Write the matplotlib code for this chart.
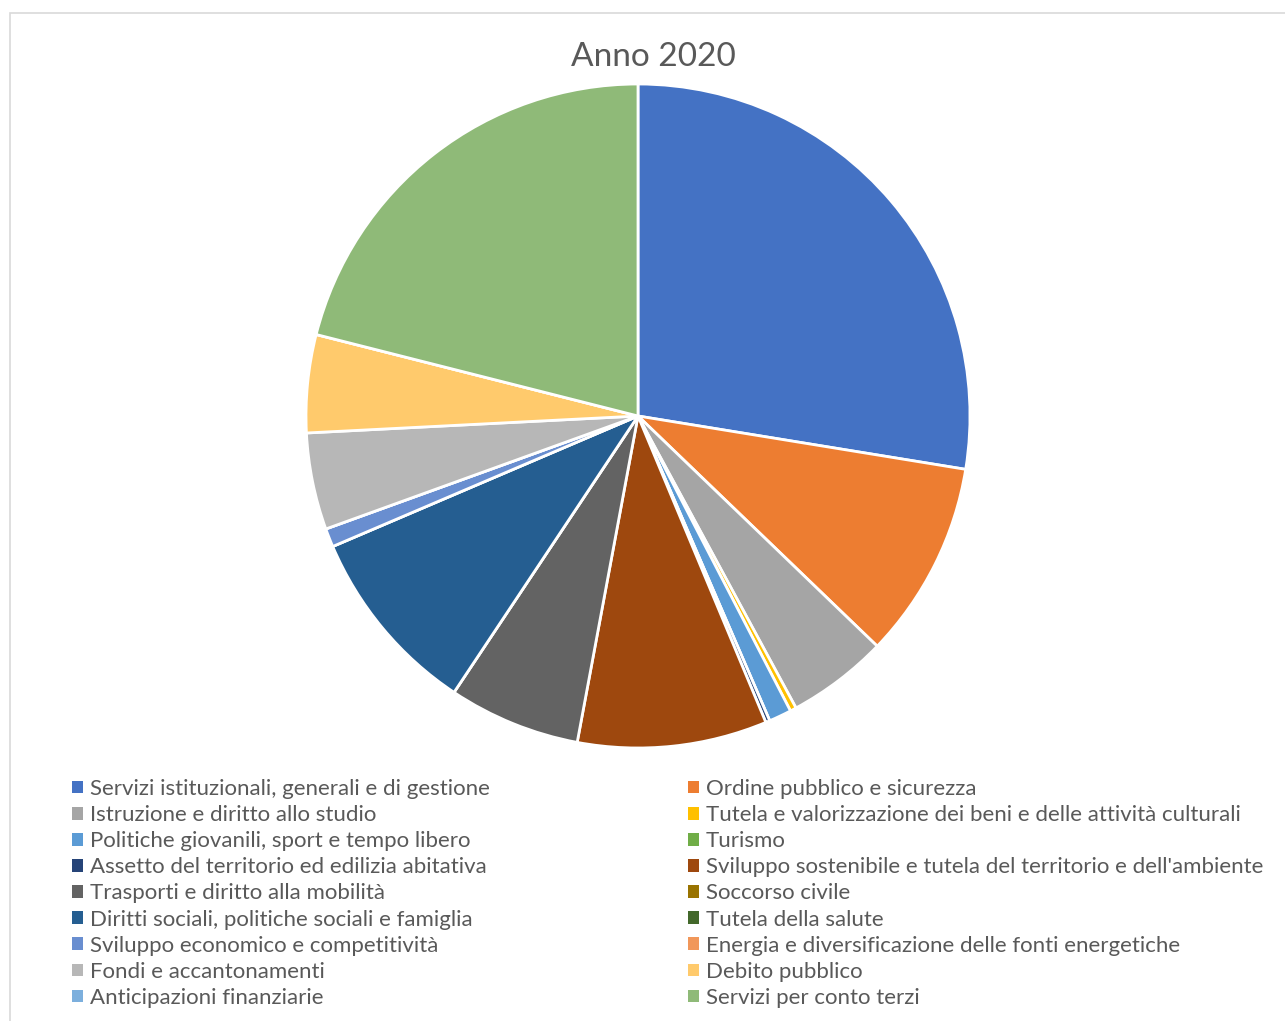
import matplotlib.pyplot as plt
from matplotlib.patches import Rectangle, Patch

# Spesa per missione, anno 2020 (quote percentuali)
categorie = [
    "Servizi istituzionali, generali e di gestione",
    "Ordine pubblico e sicurezza",
    "Istruzione e diritto allo studio",
    "Tutela e valorizzazione dei beni e delle attività culturali",
    "Politiche giovanili, sport e tempo libero",
    "Turismo",
    "Assetto del territorio ed edilizia abitativa",
    "Sviluppo sostenibile e tutela del territorio e dell'ambiente",
    "Trasporti e diritto alla mobilità",
    "Soccorso civile",
    "Diritti sociali, politiche sociali e famiglia",
    "Tutela della salute",
    "Sviluppo economico e competitività",
    "Energia e diversificazione delle fonti energetiche",
    "Fondi e accantonamenti",
    "Debito pubblico",
    "Anticipazioni finanziarie",
    "Servizi per conto terzi",
]
quote = [27.5, 9.6, 4.9, 0.3, 1.1, 0.0, 0.2, 9.2, 6.4, 0.0,
         9.2, 0.0, 0.9, 0.0, 4.7, 4.75, 0.0, 21.0]
colori = ["#4472C4", "#ED7D31", "#A5A5A5", "#FFC000", "#5B9BD5", "#70AD47",
          "#264478", "#9E480E", "#636363", "#997300", "#255E91", "#43682B",
          "#698ED0", "#F1975A", "#B7B7B7", "#FFCA6C", "#7CAFDD", "#8FBA78"]

W, H = 1285, 1021
fig = plt.figure(figsize=(W / 100, H / 100), dpi=100)
plt.rcParams['font.family'] = ['Lato', 'DejaVu Sans']
testo = "#595959"

# cornice dell'area grafico
fig.patches.append(Rectangle((10 / W, -0.1), 1.2, 1 - 13 / H + 0.1,
                             transform=fig.transFigure, fill=False,
                             edgecolor="#D9D9D9", linewidth=1.2))

cx, cy, r = 638, 416, 332
ax = fig.add_axes([(cx - r) / W, 1 - (cy + r) / H, 2 * r / W, 2 * r / H])
wedges, _ = ax.pie(quote, colors=colori, startangle=90, counterclock=False,
                   radius=1, wedgeprops=dict(edgecolor="white", linewidth=2))
ax.set_xlim(-1, 1)
ax.set_ylim(-1, 1)
ax.set_aspect("equal")
ax.axis("off")

fig.text(653 / W, 1 - 57 / H, "Anno 2020", ha="center", va="center",
         fontsize=24, color=testo)

# legenda su due colonne, ordinata per righe
handles = [Patch(facecolor=c, edgecolor="none") for c in colori]
for col, x0 in ((0, 72), (1, 688)):
    idx = list(range(col, len(categorie), 2))
    fig.legend([handles[i] for i in idx], [categorie[i] for i in idx],
               loc="upper left", bbox_to_anchor=(x0 / W, 1 - 779 / H),
               frameon=False, fontsize=16, labelcolor=testo,
               handlelength=0.5, handleheight=0.5, handletextpad=0.3,
               labelspacing=0.275, borderaxespad=0, borderpad=0)

fig.savefig("out.png", dpi=100)
